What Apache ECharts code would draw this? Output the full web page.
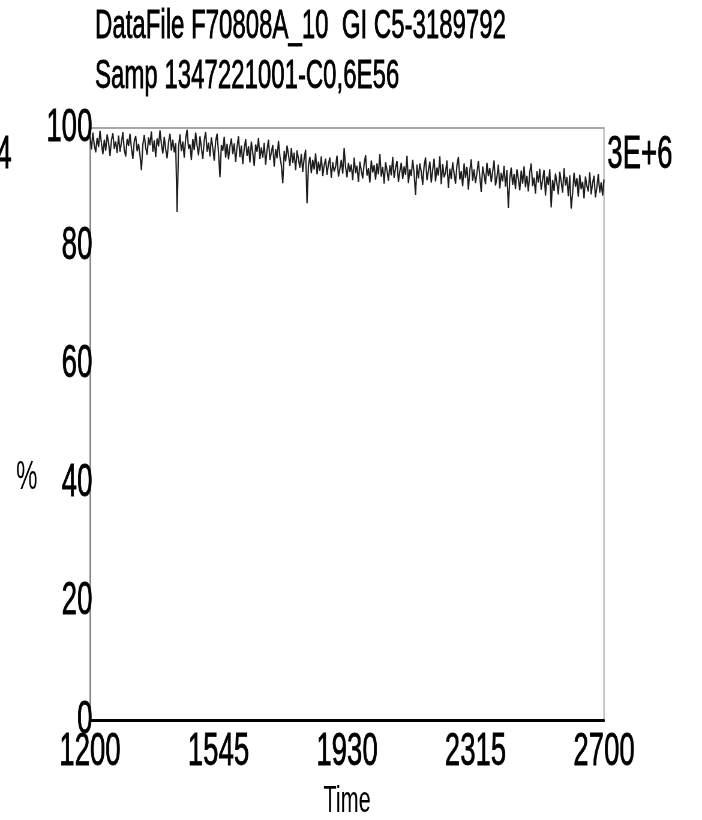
<!DOCTYPE html>
<html>
<head>
<meta charset="utf-8">
<script src="https://cdn.jsdelivr.net/npm/echarts@6/dist/echarts.min.js"></script>
<style>
html,body{margin:0;padding:0;background:#fff;overflow:hidden}
#wrap{width:702px;height:820px;overflow:hidden}
#c{width:1170px;height:820px;transform:scaleX(0.6);transform-origin:0 0}
</style>
</head>
<body>
<div id="wrap"><div id="c"></div></div>
<script>
var titleLines = ['DataFile F70808A_10  GI C5-3189792', 'Samp 1347221001-C0,6E56'];
var xTickLabels = ['1200', '1545', '1930', '2315', '2700'];
var yTicks = [0, 20, 40, 60, 80, 100];
var rightLabel = '3E+6';
var leftCutLabel = '4';
var xName = 'Time';
var yName = '%';
var percent = [
 98.6, 96.4, 99.2, 97.1, 95.9, 98.3, 96.8, 99.5, 97.4, 95.6, 98.0, 96.2, 98.9, 97.5, 95.3, 97.9, 99.1, 96.5, 97.7, 95.8,
 98.7, 96.0, 97.6, 99.3, 96.3, 95.2, 98.1, 97.0, 99.0, 96.6, 94.8, 97.8, 98.6, 96.1, 97.3, 95.4, 92.9, 97.2, 98.8, 96.7,
 95.5, 98.4, 97.1, 99.4, 96.0, 97.9, 95.1, 98.2, 96.9, 99.6, 97.3, 95.7, 98.5, 96.4, 94.9, 97.6, 99.0, 96.2, 98.0, 95.9,
 97.4, 85.8, 96.8, 98.9, 96.1, 97.7, 95.0, 98.3, 99.7, 96.5, 97.2, 94.6, 98.1, 96.3, 99.2, 97.0, 95.4, 98.6, 96.7, 94.8,
 97.9, 99.3, 96.0, 97.5, 95.2, 98.4, 96.6, 94.5, 97.8, 99.0, 95.8, 91.7, 97.1, 96.2, 98.5, 95.0, 97.3, 94.7, 96.9, 98.2,
 95.6, 97.4, 94.3, 96.8, 98.6, 95.1, 97.0, 93.9, 96.5, 98.1, 95.3, 96.9, 94.2, 97.7, 95.8, 93.6, 97.2, 96.0, 98.3, 94.8,
 96.7, 95.0, 97.5, 93.8, 96.3, 98.0, 94.6, 95.9, 97.1, 93.5, 96.4, 94.9, 97.8, 95.2, 93.7, 90.7, 96.1, 94.4, 97.0, 95.5,
 93.6, 96.6, 94.1, 95.8, 92.9, 96.2, 94.7, 93.3, 95.6, 92.6, 94.9, 96.3, 87.3, 93.8, 95.1, 92.4, 94.6, 93.0, 95.7, 92.2,
 94.3, 92.8, 95.2, 91.9, 93.7, 94.8, 92.1, 93.9, 95.0, 91.6, 94.2, 92.7, 93.5, 95.3, 91.8, 93.1, 94.6, 92.3, 96.6, 93.4,
 91.7, 94.1, 92.6, 93.8, 91.2, 95.0, 92.4, 93.6, 90.9, 94.3, 92.8, 91.5, 93.9, 95.4, 92.0, 93.2, 90.8, 94.5, 92.5, 93.7,
 91.3, 94.0, 92.2, 95.6, 91.8, 93.4, 90.6, 94.2, 92.9, 91.1, 93.7, 92.0, 95.1, 91.6, 93.3, 94.4, 90.9, 92.7, 94.1, 91.4,
 93.5, 92.1, 95.3, 90.7, 93.0, 91.9, 94.6, 92.3, 88.7, 93.8, 91.5, 94.0, 92.6, 90.4, 93.6, 95.0, 91.2, 92.8, 94.3, 90.8,
 92.9, 94.8, 91.0, 93.3, 92.0, 95.2, 90.5, 93.9, 91.7, 92.5, 94.5, 89.9, 93.1, 91.4, 94.2, 92.3, 90.6, 93.7, 95.1, 91.3,
 92.7, 90.2, 94.0, 91.6, 93.4, 89.6, 92.8, 94.7, 91.1, 93.0, 90.7, 92.4, 94.4, 91.8, 89.2, 93.5, 92.1, 90.5, 94.1, 91.9,
 93.2, 90.9, 92.6, 94.5, 90.3, 91.7, 93.8, 89.8, 92.4, 91.0, 93.6, 90.1, 92.9, 86.5, 91.5, 93.3, 90.4, 92.2, 89.7, 93.0,
 91.4, 89.5, 92.8, 90.6, 93.5, 90.0, 91.9, 89.3, 92.5, 94.0, 90.2, 91.6, 88.9, 92.7, 90.8, 93.1, 89.6, 91.3, 92.9, 88.6,
 91.8, 90.4, 93.0, 86.6, 91.2, 89.4, 92.3, 90.7, 88.8, 92.6, 91.0, 89.1, 93.2, 90.3, 91.7, 88.5, 92.0, 86.4, 89.0, 92.4,
 90.1, 91.5, 88.4, 92.1, 89.7, 90.9, 88.1, 91.8, 90.2, 89.3, 92.5, 88.8, 90.7, 91.9, 88.3, 90.0, 92.2, 89.1, 90.8, 88.6,
 91.3
];

var FONT = '"Liberation Sans", Arial, sans-serif';
var SX = 0.6;               // horizontal condensation of the whole drawing
var px = function (v) { return v / SX; };
var lastIdx = percent.length - 1;
var step = lastIdx / (xTickLabels.length - 1);
var seriesData = percent.map(function (v, i) { return [i, v]; });
var heavy = {textBorderColor: '#000', textBorderWidth: 0.8};

var chart = echarts.init(document.getElementById('c'), null, {renderer: 'canvas', width: 1170, height: 820});
chart.setOption({
  animation: false,
  backgroundColor: '#fff',
  title: {
    text: titleLines.join('\n'),
    left: px(95), top: 2, padding: 0,
    textStyle: Object.assign({fontFamily: FONT, fontSize: 40, fontWeight: 'normal', color: '#000', lineHeight: 50}, heavy)
  },
  grid: {left: px(90), right: px(98), top: 128, bottom: 100, show: true, borderColor: '#a8a8a8', borderWidth: 2,
         backgroundColor: 'transparent', outerBoundsMode: 'none', containLabel: false},
  xAxis: {
    type: 'value', min: 0, max: lastIdx, interval: step,
    name: xName, nameLocation: 'middle', nameGap: 64,
    nameTextStyle: {fontFamily: FONT, fontSize: 36, color: '#000'},
    axisLine: {show: true, lineStyle: {color: '#000', width: 3}},
    axisTick: {show: false},
    splitLine: {show: false},
    axisLabel: Object.assign({
      fontFamily: FONT, fontSize: 46, color: '#000', margin: 9,
      formatter: function (v) { return xTickLabels[Math.round(v / step)]; }
    }, heavy)
  },
  yAxis: {
    type: 'value', min: yTicks[0], max: yTicks[yTicks.length - 1], interval: yTicks[1] - yTicks[0],
    axisLine: {show: true, lineStyle: {color: '#8a8a8a', width: 3}},
    axisTick: {show: false},
    splitLine: {show: false},
    axisLabel: Object.assign({fontFamily: FONT, fontSize: 46, color: '#000', margin: -4}, heavy)
  },
  graphic: [
    {type: 'text', left: px(607), top: 132, style: Object.assign({text: rightLabel, fontFamily: FONT, fontSize: 46, fill: '#000', stroke: '#000', lineWidth: 0.8})},
    {type: 'text', left: px(-4), top: 132, style: {text: leftCutLabel, fontFamily: FONT, fontSize: 46, fill: '#000', stroke: '#000', lineWidth: 0.8}},
    {type: 'text', left: px(16), top: 458, style: {text: yName, fontFamily: FONT, fontSize: 40, fill: '#000'}}
  ],
  series: [{
    type: 'line', data: seriesData, showSymbol: false, symbol: 'none',
    lineStyle: {color: '#1c1c1c', width: 2.2}, z: 3
  }]
});
</script>
</body>
</html>
